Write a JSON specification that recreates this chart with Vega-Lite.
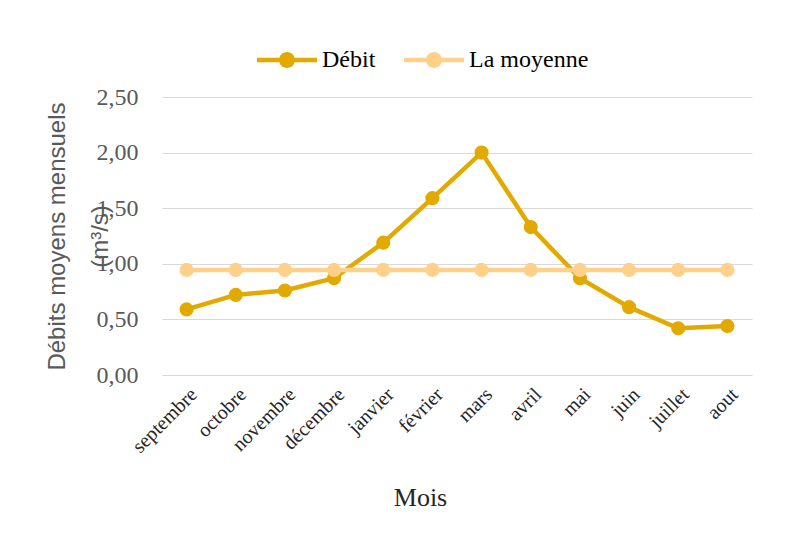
{
  "$schema": "https://vega.github.io/schema/vega-lite/v6.json",
  "autosize": {"type": "none"},
  "padding": {"left": 162, "top": 97, "right": 43, "bottom": 177},
  "width": 590,
  "height": 278,
  "background": "white",
  "config": {"view": {"stroke": null}},
  "data": {
    "values": [
      {"mois": "septembre", "serie": "Débit", "valeur": 0.59},
      {"mois": "octobre", "serie": "Débit", "valeur": 0.72},
      {"mois": "novembre", "serie": "Débit", "valeur": 0.76},
      {"mois": "décembre", "serie": "Débit", "valeur": 0.87},
      {"mois": "janvier", "serie": "Débit", "valeur": 1.19},
      {"mois": "février", "serie": "Débit", "valeur": 1.59},
      {"mois": "mars", "serie": "Débit", "valeur": 2.0},
      {"mois": "avril", "serie": "Débit", "valeur": 1.33},
      {"mois": "mai", "serie": "Débit", "valeur": 0.87},
      {"mois": "juin", "serie": "Débit", "valeur": 0.61},
      {"mois": "juillet", "serie": "Débit", "valeur": 0.42},
      {"mois": "aout", "serie": "Débit", "valeur": 0.44},
      {"mois": "septembre", "serie": "La moyenne", "valeur": 0.945},
      {"mois": "octobre", "serie": "La moyenne", "valeur": 0.945},
      {"mois": "novembre", "serie": "La moyenne", "valeur": 0.945},
      {"mois": "décembre", "serie": "La moyenne", "valeur": 0.945},
      {"mois": "janvier", "serie": "La moyenne", "valeur": 0.945},
      {"mois": "février", "serie": "La moyenne", "valeur": 0.945},
      {"mois": "mars", "serie": "La moyenne", "valeur": 0.945},
      {"mois": "avril", "serie": "La moyenne", "valeur": 0.945},
      {"mois": "mai", "serie": "La moyenne", "valeur": 0.945},
      {"mois": "juin", "serie": "La moyenne", "valeur": 0.945},
      {"mois": "juillet", "serie": "La moyenne", "valeur": 0.945},
      {"mois": "aout", "serie": "La moyenne", "valeur": 0.945}
    ]
  },
  "mark": {"type": "line", "strokeWidth": 4.5, "point": {"filled": true, "size": 200, "opacity": 1}},
  "encoding": {
    "x": {
      "field": "mois",
      "type": "nominal",
      "sort": ["septembre", "octobre", "novembre", "décembre", "janvier", "février", "mars", "avril", "mai", "juin", "juillet", "aout"],
      "scale": {"paddingInner": 0, "paddingOuter": 0.5},
      "axis": {
        "title": "Mois",
        "titleFont": "Liberation Serif",
        "titleFontSize": 26,
        "titleFontWeight": "normal",
        "titleColor": "#262626",
        "titleX": 258,
        "titleY": 122,
        "titleBaseline": "middle",
        "labelAngle": -45,
        "labelFont": "Liberation Serif",
        "labelFontSize": 20,
        "labelColor": "#262626",
        "labelPadding": 9,
        "ticks": false,
        "domain": false,
        "grid": false
      }
    },
    "y": {
      "field": "valeur",
      "type": "quantitative",
      "scale": {"domain": [0, 2.5], "nice": false},
      "axis": {
        "values": [0, 0.5, 1, 1.5, 2, 2.5],
        "labelExpr": "replace(format(datum.value, '.2f'), '.', ',')",
        "labelFont": "Liberation Serif",
        "labelFontSize": 24,
        "labelColor": "#595959",
        "labelPadding": 24,
        "ticks": false,
        "domain": false,
        "grid": true,
        "gridColor": "#d9d9d9",
        "gridWidth": 1.2,
        "title": ["Débits moyens mensuels", "(m³/s)"],
        "titleFont": "Liberation Sans",
        "titleFontSize": 24,
        "titleFontWeight": "normal",
        "titleColor": "#595959",
        "titleAngle": -90,
        "titleBaseline": "middle",
        "titleAlign": "center",
        "titleLineHeight": 43,
        "titleX": -105,
        "titleY": 139
      }
    },
    "color": {
      "field": "serie",
      "type": "nominal",
      "scale": {"domain": ["Débit", "La moyenne"], "range": ["#E2AA00", "#FFD08A"]},
      "legend": {
        "title": null,
        "orient": "none",
        "direction": "horizontal",
        "legendX": 113,
        "legendY": -49,
        "padding": 0,
        "symbolType": "M-3,-0.22 L3,-0.22 L3,0.22 L-3,0.22 Z M-0.8,0 A0.8,0.8 0 1,1 0.8,0 A0.8,0.8 0 1,1 -0.8,0 Z",
        "symbolSize": 400,
        "symbolStrokeWidth": 0,
        "symbolOpacity": 1,
        "labelFont": "Liberation Serif",
        "labelFontSize": 24,
        "labelColor": "#000000",
        "labelOffset": 23,
        "columnPadding": 28
      }
    }
  }
}
